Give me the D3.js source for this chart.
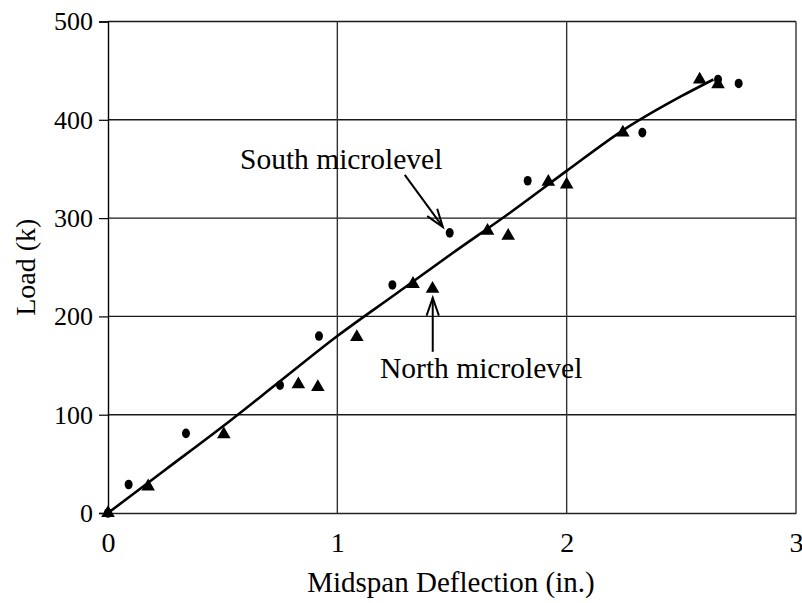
<!DOCTYPE html>
<html>
<head>
<meta charset="utf-8">
<script src="https://cdn.jsdelivr.net/npm/d3@7"></script>
<style>
  body { margin: 0; background: #fff; }
  svg { display: block; }
  text { font-family: "Times New Roman", "Liberation Serif", Tinos, "DejaVu Serif", serif; fill: #000; }
</style>
</head>
<body>
<div id="chart"></div>
<script>
// south microlevel readings (circles)
const southDefl = [0, 0.09, 0.34, 0.75, 0.92, 1.24, 1.49, 1.83, 2.33, 2.66, 2.75];
const southLoad = [0, 29, 81, 130, 180, 232, 285, 338, 387, 441, 437];
// north microlevel readings (triangles)
const northDefl = [0, 0.175, 0.505, 0.83, 0.915, 1.085, 1.33, 1.415, 1.655, 1.745, 1.92, 2.0, 2.245, 2.58, 2.66];
const northLoad = [0, 27, 80, 131, 128, 179, 233, 228, 287, 282, 337, 334, 387, 441, 436];
// fitted curve
const fitDefl = [0, 0.25, 0.5, 0.75, 1.0, 1.25, 1.5, 1.75, 2.0, 2.25, 2.5, 2.64];
const fitLoad = [0, 44, 88, 134, 180, 222, 264, 305, 348, 390, 424, 441];

const xTicks = [0, 1, 2, 3];
const yTicks = [0, 100, 200, 300, 400, 500];

const w = 802, h = 603;
const padLeft = 108, padRight = 796, padTop = 21.5, padBottom = 513;

const svg = d3.select("#chart").append("svg")
    .attr("width", w)
    .attr("height", h);

const xScale = d3.scaleLinear().domain([0, 3]).range([padLeft, padRight]);
const yScale = d3.scaleLinear().domain([0, 500]).range([padBottom, padTop]);

// grid
svg.append("g")
    .selectAll("line")
    .data(yTicks.slice(1))
    .enter()
    .append("line")
    .attr("x1", padLeft).attr("x2", padRight)
    .attr("y1", d => yScale(d)).attr("y2", d => yScale(d))
    .attr("stroke", "#1a1a1a")
    .attr("stroke-width", 1.4);
svg.append("g")
    .selectAll("line")
    .data(xTicks.slice(1))
    .enter()
    .append("line")
    .attr("y1", padTop).attr("y2", padBottom)
    .attr("x1", d => xScale(d)).attr("x2", d => xScale(d))
    .attr("stroke", "#333")
    .attr("stroke-width", 1.4);

// axes
const yAxis = d3.axisLeft(yScale).tickValues(yTicks).tickSize(9).tickPadding(6).tickFormat(d => d);
const xAxis = d3.axisBottom(xScale).tickValues(xTicks).tickSize(0).tickPadding(19).tickFormat(d => d);

const gy = svg.append("g")
    .attr("transform", "translate(" + padLeft + ",0)")
    .attr("font-family", null)
    .call(yAxis);
gy.attr("font-family", null).attr("font-size", null);
gy.select(".domain").attr("stroke", "#000").attr("stroke-width", 1.4);
gy.selectAll(".tick line").attr("stroke", "#000").attr("stroke-width", 1.2);
gy.selectAll(".tick text").style("font-size", "26px");

const gx = svg.append("g")
    .attr("transform", "translate(0," + padBottom + ")")
    .call(xAxis);
gx.attr("font-family", null).attr("font-size", null);
gx.select(".domain").attr("stroke", "#222").attr("stroke-width", 1.4);
gx.selectAll(".tick text").style("font-size", "28px");

// axis titles
svg.append("text")
    .attr("x", (padLeft + padRight) / 2 - 1)
    .attr("y", 592)
    .attr("text-anchor", "middle")
    .style("font-size", "29px")
    .text("Midspan Deflection (in.)");
svg.append("text")
    .attr("transform", "translate(35," + ((padTop + padBottom) / 2) + ") rotate(-90)")
    .attr("text-anchor", "middle")
    .style("font-size", "28px")
    .text("Load (k)");

// fitted curve
const fitData = fitDefl.map((d, i) => [d, fitLoad[i]]);
svg.append("path")
    .datum(fitData)
    .attr("fill", "none")
    .attr("stroke", "#000")
    .attr("stroke-width", 2.6)
    .attr("d", d3.line()
        .x(d => xScale(d[0]))
        .y(d => yScale(d[1]))
        .curve(d3.curveMonotoneX));

// markers
svg.append("g")
    .selectAll("ellipse")
    .data(southDefl.map((d, i) => [d, southLoad[i]]))
    .enter()
    .append("ellipse")
    .attr("cx", d => xScale(d[0]))
    .attr("cy", d => yScale(d[1]))
    .attr("rx", 4)
    .attr("ry", 4.8)
    .attr("fill", "#000");

const tri = d3.symbol().type(d3.symbolTriangle).size(80);
svg.append("g")
    .selectAll("path")
    .data(northDefl.map((d, i) => [d, northLoad[i]]))
    .enter()
    .append("path")
    .attr("d", tri)
    .attr("transform", d => "translate(" + xScale(d[0]) + "," + yScale(d[1]) + ")")
    .attr("fill", "#000");

// annotations
function arrow(x1, y1, x2, y2) {
    const ax = xScale(x1), ay = yScale(y1), bx = xScale(x2), by = yScale(y2);
    const ang = Math.atan2(by - ay, bx - ax);
    const len = 19, spread = 0.33;
    svg.append("line")
        .attr("x1", ax).attr("y1", ay).attr("x2", bx).attr("y2", by)
        .attr("stroke", "#000").attr("stroke-width", 2);
    svg.append("path")
        .attr("d", "M" + (bx - len * Math.cos(ang - spread)) + "," + (by - len * Math.sin(ang - spread)) +
            "L" + bx + "," + by +
            "L" + (bx - len * Math.cos(ang + spread)) + "," + (by - len * Math.sin(ang + spread)))
        .attr("fill", "none")
        .attr("stroke", "#000")
        .attr("stroke-width", 2);
}

svg.append("text")
    .attr("x", 240)
    .attr("y", 169)
    .style("font-size", "29.5px")
    .text("South microlevel");
arrow(1.294, 344, 1.46, 291);

svg.append("text")
    .attr("x", 380)
    .attr("y", 378)
    .style("font-size", "29.5px")
    .text("North microlevel");
arrow(1.416, 164, 1.416, 219);
</script>
</body>
</html>
